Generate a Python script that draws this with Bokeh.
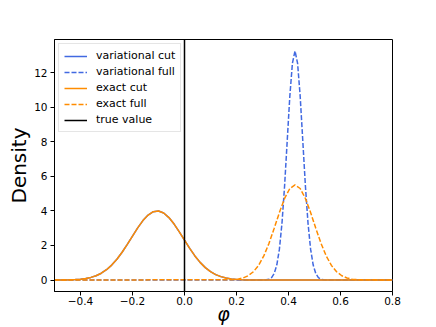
from bokeh.plotting import figure
from bokeh.models import Range1d, FixedTicker, Legend, LegendItem
from bokeh.embed import file_html
from bokeh.resources import INLINE

# ---- data ----
x_cut = [-0.50, -0.48, -0.46, -0.44, -0.42, -0.40, -0.38, -0.36, -0.34, -0.32,
         -0.30, -0.28, -0.26, -0.24, -0.22, -0.20, -0.18, -0.16, -0.14, -0.12,
         -0.10, -0.08, -0.06, -0.04, -0.02, 0.00, 0.02, 0.04, 0.06, 0.08,
         0.10, 0.12, 0.14, 0.16, 0.18, 0.20, 0.22, 0.24, 0.26, 0.28,
         0.30, 0.40, 0.50, 0.60, 0.70, 0.80]
exact_cut = [0.002, 0.004, 0.007, 0.015, 0.028, 0.052, 0.091, 0.155, 0.253, 0.397,
             0.598, 0.866, 1.205, 1.608, 2.065, 2.547, 3.019, 3.439, 3.762, 3.955,
             3.995, 3.877, 3.615, 3.239, 2.788, 2.305, 1.831, 1.398, 1.025, 0.722,
             0.489, 0.318, 0.199, 0.119, 0.069, 0.038, 0.020, 0.010, 0.005, 0.002,
             0.001, 0.0, 0.0, 0.0, 0.0, 0.0]
variational_cut = [0.002, 0.004, 0.007, 0.015, 0.028, 0.052, 0.091, 0.155, 0.253, 0.397,
                   0.598, 0.866, 1.205, 1.608, 2.065, 2.547, 3.019, 3.439, 3.762, 3.955,
                   3.995, 3.877, 3.615, 3.239, 2.788, 2.305, 1.831, 1.398, 1.025, 0.722,
                   0.489, 0.318, 0.199, 0.119, 0.069, 0.038, 0.020, 0.010, 0.005, 0.002,
                   0.001, 0.0, 0.0, 0.0, 0.0, 0.0]

x_var_full = [-0.50, 0.305, 0.315, 0.325, 0.335, 0.345, 0.355, 0.365, 0.375, 0.385,
              0.395, 0.405, 0.415, 0.425, 0.435, 0.445, 0.455, 0.465, 0.475, 0.485,
              0.495, 0.505, 0.515, 0.525, 0.535, 0.545, 0.80]
variational_full = [0.0, 0.004, 0.016, 0.051, 0.147, 0.378, 0.871, 1.79, 3.30, 5.45,
                    8.04, 10.61, 12.53, 13.25, 12.53, 10.61, 8.04, 5.45, 3.30, 1.79,
                    0.871, 0.378, 0.147, 0.051, 0.016, 0.004, 0.0]

x_exact_full = [-0.50, 0.185, 0.205, 0.225, 0.245, 0.265, 0.285, 0.305, 0.325, 0.345,
                0.365, 0.385, 0.405, 0.425, 0.445, 0.465, 0.485, 0.505, 0.525, 0.545,
                0.565, 0.585, 0.605, 0.625, 0.645, 0.665, 0.80]
exact_full = [0.0, 0.023, 0.055, 0.122, 0.252, 0.481, 0.852, 1.398, 2.124, 2.992,
              3.905, 4.723, 5.295, 5.5, 5.295, 4.723, 3.905, 2.992, 2.124, 1.398,
              0.852, 0.481, 0.252, 0.122, 0.055, 0.023, 0.0]

true_value = 0.0

x_limits = (-0.5, 0.8)
y_limits = (-0.66, 13.91)

xticks = [-0.4, -0.2, 0.0, 0.2, 0.4, 0.6, 0.8]
xtick_labels = ["\u22120.4", "\u22120.2", "0.0", "0.2", "0.4", "0.6", "0.8"]
yticks = [0, 2, 4, 6, 8, 10, 12]
ytick_labels = ["0", "2", "4", "6", "8", "10", "12"]

series_labels = ["variational cut", "variational full", "exact cut", "exact full", "true value"]

# ---- styling ----
BLUE = "#4169E1"
ORANGE = "#FF8C00"
FONT = "DejaVu Sans"
LW = 1.5

p = figure(width=436, height=327, output_backend="svg", toolbar_location=None,
           x_range=Range1d(*x_limits), y_range=Range1d(*y_limits),
           min_border_left=54, min_border_right=44, min_border_top=39,
           min_border_bottom=36)
p.grid.visible = False
p.outline_line_color = "black"
p.outline_line_width = 1
p.outline_line_alpha = 1

r_vc = p.line(x_cut, variational_cut, color=BLUE, line_width=LW)
r_vf = p.line(x_var_full, variational_full, color=BLUE, line_width=LW, line_dash="5 2")
r_ec = p.line(x_cut, exact_cut, color=ORANGE, line_width=LW)
r_ef = p.line(x_exact_full, exact_full, color=ORANGE, line_width=LW, line_dash="5 2")
r_tv = p.line([true_value, true_value], [y_limits[0], y_limits[1]], color="black", line_width=LW)

legend = Legend(items=[LegendItem(label=l, renderers=[r]) for l, r in
                       zip(series_labels, [r_vc, r_vf, r_ec, r_ef, r_tv])],
                location="top_left")
legend.margin = 4
legend.padding = 5
legend.spacing = 3
legend.glyph_width = 23
legend.glyph_height = 12
legend.label_height = 12
legend.label_standoff = 9
legend.label_text_font = FONT
legend.label_text_font_size = "11px"
legend.label_text_color = "black"
legend.label_text_baseline = "middle"
legend.border_line_color = "#cccccc"
legend.border_line_width = 1
legend.background_fill_alpha = 0.8
p.add_layout(legend)

for ax in (p.xaxis[0], p.yaxis[0]):
    ax.axis_line_color = "black"
    ax.major_tick_line_color = "black"
    ax.minor_tick_line_color = None
    ax.major_tick_in = 0
    ax.major_tick_out = 4
    ax.major_label_text_font = FONT
    ax.major_label_text_font_size = "10.5px"
    ax.major_label_text_color = "black"
p.xaxis.major_label_standoff = 1
p.yaxis.major_label_standoff = 3

p.xaxis.ticker = FixedTicker(ticks=xticks)
p.xaxis.major_label_overrides = {t: l for t, l in zip(xticks, xtick_labels)}
p.yaxis.ticker = FixedTicker(ticks=yticks)
p.yaxis.major_label_overrides = {t: l for t, l in zip(yticks, ytick_labels)}

p.yaxis.axis_label = "Density"
p.yaxis.axis_label_text_font = FONT
p.yaxis.axis_label_text_font_size = "20px"
p.yaxis.axis_label_text_font_style = "normal"
p.yaxis.axis_label_text_color = "black"
p.yaxis.axis_label_standoff = 0

p.xaxis.axis_label = "\u03c6"
p.xaxis.axis_label_text_font = FONT
p.xaxis.axis_label_text_font_size = "19px"
p.xaxis.axis_label_text_font_style = "italic"
p.xaxis.axis_label_text_color = "black"
p.xaxis.axis_label_standoff = -5

open("out.html", "w").write(file_html(p, INLINE))
